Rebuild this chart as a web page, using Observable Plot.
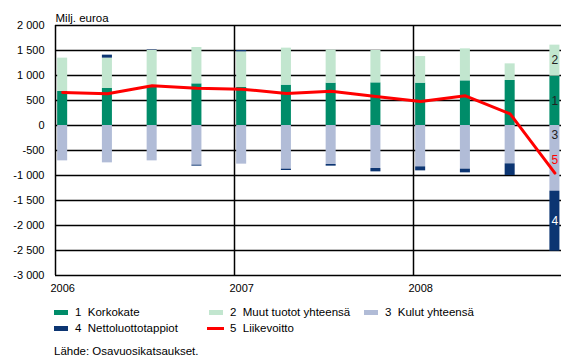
<!DOCTYPE html>
<html><head><meta charset="utf-8">
<script src="https://cdn.jsdelivr.net/npm/d3@7"></script>
<script src="https://cdn.jsdelivr.net/npm/@observablehq/plot@0.6"></script>
<style>
body{margin:0;background:#fff;font-family:"Liberation Sans",Arial,sans-serif;}
#wrap{position:relative;width:561px;height:361px;overflow:hidden;}
#legend{position:absolute;left:0;top:300px;width:561px;height:61px;}
.lt{position:absolute;font-size:11.5px;line-height:14px;white-space:pre;color:#000;}
.sw{position:absolute;width:14px;height:5px;}
</style></head><body><div id="wrap"><div id="chart"></div><div id="legend"></div></div>
<script>
const quarters = ["2006 Q1","2006 Q2","2006 Q3","2006 Q4","2007 Q1","2007 Q2","2007 Q3","2007 Q4","2008 Q1","2008 Q2","2008 Q3","2008 Q4"];
const korkokate = [680, 740, 780, 833, 760, 807, 847, 853, 847, 893, 900, 987];
const muutTuotot = [667, 607, 720, 727, 713, 740, 660, 647, 533, 640, 333, 620];
const kulut = [-707, -747, -707, -793, -773, -873, -780, -860, -827, -873, -767, -1313];
const nettoluottotappiot = [0, 60, 10, -20, 27, -27, -33, -67, -80, -74, -233, -1200];
const liikevoitto = [660, 633, 793, 747, 727, 640, 687, 580, 480, 593, 233, -953];
const seriesNames = ["Korkokate", "Muut tuotot yhteensä", "Kulut yhteensä", "Nettoluottotappiot", "Liikevoitto"];
const seriesNums = ["1", "2", "3", "4", "5"];
const colors = ["#008c69", "#c2e6cf", "#b1bcd7", "#0c3572", "#ff0000"];
const yTicks = [2000, 1500, 1000, 500, 0, -500, -1000, -1500, -2000, -2500, -3000];
const years = [2006, 2007, 2008];
const yAxisLabel = "Milj. euroa";
const sourceText = "Lähde: Osavuosikatsaukset.";

// layout helpers
const barOffset = 0.04, halfBar = 0.028;
const qpos = q => { const [y, qq] = q.split(" Q"); return +y + (+qq - 1) / 4 + barOffset; };
const xEnd = 2006 + (561 - 55) / 179;

const stackSeries = [korkokate, muutTuotot, kulut, nettoluottotappiot];
const rows = [];
stackSeries.forEach((vals, s) => quarters.forEach((q, i) => rows.push({q, x: qpos(q), value: vals[i], series: seriesNames[s]})));
const lineData = quarters.map((q, i) => ({x: qpos(q), value: liikevoitto[i]}));
const last = quarters.length - 1;
const lastRows = rows.filter(d => d.q === quarters[last]);
const numOf = s => s === seriesNames[2] ? "" : seriesNums[seriesNames.indexOf(s)];

const loc = d3.formatLocale({decimal: ",", thousands: " ", grouping: [3], currency: ["", ""], minus: "-"});
const fmt = loc.format(",");

const chart = Plot.plot({
  width: 561, height: 300,
  marginLeft: 55, marginRight: 0, marginTop: 25, marginBottom: 25,
  style: {fontFamily: "Liberation Sans, Arial, sans-serif", fontSize: "11px", color: "#000", background: "#fff"},
  x: {type: "linear", domain: [2006, xEnd], ticks: years.map(y => y + barOffset), tickFormat: d => String(Math.floor(d)), tickSize: 0, tickPadding: 9, label: null},
  y: {domain: [-3000, 2000], ticks: yTicks, tickFormat: fmt, tickSize: 0, tickPadding: 11, label: null},
  color: {domain: seriesNames, range: colors},
  marks: [
    Plot.ruleY(yTicks, {stroke: "#000", strokeWidth: 1.5}),
    Plot.ruleX(years, {stroke: "#000", strokeWidth: 1.5}),
    Plot.rectY(rows, {x1: d => d.x - halfBar, x2: d => d.x + halfBar, y: "value", z: "series", fill: "series"}),
    Plot.line(lineData, {x: "x", y: "value", stroke: colors[4], strokeWidth: 3, strokeLinejoin: "round"}),
    Plot.text(lastRows, Plot.stackY({x: "x", y: "value", z: "series", text: d => numOf(d.series), fill: d => d.series === seriesNames[3] ? "#fff" : "#222", fontSize: 12})),
    Plot.text([kulut[last]], {x: qpos(quarters[last]), y: 0, text: () => seriesNums[2], lineAnchor: "top", dy: 5, fill: "#222", fontSize: 12}),
    Plot.text([liikevoitto[last]], {x: qpos(quarters[last]), y: d => d, text: () => seriesNums[4], dy: -13, fill: colors[4], fontSize: 12}),
    Plot.text([yAxisLabel], {frameAnchor: "top-left", dy: -4, textAnchor: "start", lineAnchor: "bottom", fontSize: 11.5, fill: "#000"})
  ]
});
document.getElementById("chart").appendChild(chart);

// legend
const legend = document.getElementById("legend");
const colX = [54, 209, 364], rowY = [12, 28];
seriesNames.forEach((name, i) => {
  const cx = colX[i % 3], cy = rowY[Math.floor(i / 3)];
  const sw = document.createElement("div");
  sw.className = "sw";
  sw.style.background = colors[i];
  if (i === 4) { sw.style.left = (cx - 2) + "px"; sw.style.width = "17px"; sw.style.height = "3px"; sw.style.top = (cy - 1.5) + "px"; }
  else { sw.style.left = cx + "px"; sw.style.top = (cy - 2.5) + "px"; }
  legend.appendChild(sw);
  const t = document.createElement("div");
  t.className = "lt";
  t.textContent = seriesNums[i] + "  " + name;
  t.style.left = (cx + 21) + "px";
  t.style.top = (cy - 7) + "px";
  legend.appendChild(t);
});
const src = document.createElement("div");
src.className = "lt";
src.textContent = sourceText;
src.style.left = "54px";
src.style.top = "44px";
legend.appendChild(src);
</script></body></html>
